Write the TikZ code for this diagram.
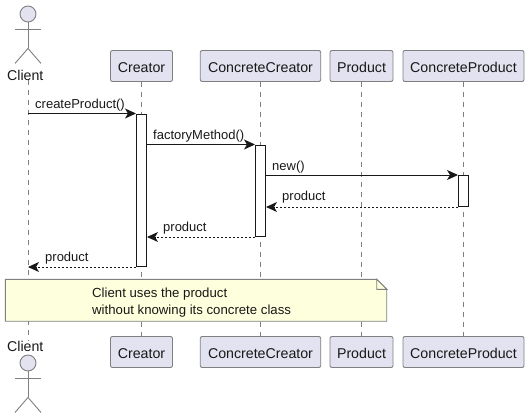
\documentclass[tikz,border=0pt]{standalone}
\usepackage{fontspec}
\setmainfont{Liberation Sans}
\usetikzlibrary{shapes, arrows, arrows.meta}
\definecolor{boxFill}{HTML}{E2E2F0}
\definecolor{noteFill}{HTML}{FEFFDD}
\definecolor{edgeGray}{HTML}{7F7F7F}
\definecolor{inkDark}{HTML}{181818}

\begin{document}
\begin{tikzpicture}[
    x=1pt, y=-1pt,
    partBox/.style={draw=edgeGray, fill=boxFill, rounded corners=2pt, line width=0.9pt, minimum height=31pt, inner sep=0pt, text=inkDark, text height=12pt, text depth=0pt, font=\fontsize{14.2}{16}\selectfont},
    bar/.style={draw=inkDark, fill=white, line width=1pt, minimum width=10pt, inner sep=0pt},
    lifeLine/.style={draw=edgeGray, line width=0.9pt, dash pattern=on 5pt off 5pt},
    actorLine/.style={draw=edgeGray, line width=0.9pt},
    actorName/.style={text=inkDark, inner sep=0pt, font=\fontsize{14.2}{16}\selectfont},
    msgText/.style={anchor=west, inner sep=0pt, text=inkDark, font=\fontsize{13}{15}\selectfont},
    msgCall/.style={draw=inkDark, line width=1pt, -{Stealth[length=11pt, width=10pt, inset=3pt]}},
    msgBack/.style={msgCall, dash pattern=on 2pt off 2pt}
    ]
    \useasboundingbox (0, 0) rectangle (529, 418);

    % header and footer
    \node[actorName] (clientTop) at (25.3, 75) {Client};
    \node[actorName] (clientBot) at (25.3, 346) {Client};
    \node[partBox, minimum width=62pt] (creatorTop) at (141.5, 66) {Creator};
    \node[partBox, minimum width=120.5pt] (concCreatorTop) at (260.5, 66) {ConcreteCreator};
    \node[partBox, minimum width=63pt] (productTop) at (361.5, 66) {Product};
    \node[partBox, minimum width=121pt] (concProductTop) at (463.5, 66) {ConcreteProduct};
    \node[partBox, minimum width=62pt] (creatorBot) at (141.5, 352) {Creator};
    \node[partBox, minimum width=120.5pt] (concCreatorBot) at (260.5, 352) {ConcreteCreator};
    \node[partBox, minimum width=63pt] (productBot) at (361.5, 352) {Product};
    \node[partBox, minimum width=121pt] (concProductBot) at (463.5, 352) {ConcreteProduct};

    % actors
    \foreach \nm/\hy in {Top/14, Bot/363} {
        \node[circle, draw=edgeGray, fill=boxFill, line width=0.9pt, minimum size=16pt, inner sep=0pt] (head\nm) at (28, \hy) {};
        \draw[actorLine] (head\nm.south) -- ++(0, 26) coordinate (hip\nm);
        \draw[actorLine] (head\nm.south) ++(-13, 7) -- ++(26, 0);
        \draw[actorLine] (hip\nm) -- ++(-13, 15);
        \draw[actorLine] (hip\nm) -- ++(13, 15);
    }

    % lifelines
    \draw[lifeLine] (headTop |- clientTop.south) -- (headTop |- clientBot.north);
    \draw[lifeLine] (creatorTop.south) -- (creatorBot.north);
    \draw[lifeLine] (concCreatorTop.south) -- (concCreatorBot.north);
    \draw[lifeLine] (productTop.south) -- (productBot.north);
    \draw[lifeLine] (concProductTop.south) -- (concProductBot.north);

    % activations
    \node[bar, minimum height=152.5pt] (creatorBar) at (141.5, 190.25) {};
    \node[bar, minimum height=91.5pt] (concCreatorBar) at (260.5, 190.75) {};
    \node[bar, minimum height=31pt] (concProductBar) at (463.5, 191) {};

    % messages
    \draw[msgCall] (headTop |- creatorBar.north) -- (creatorBar.north west);
    \draw[msgCall] (creatorBar.east |- concCreatorBar.north) -- (concCreatorBar.north west);
    \draw[msgCall] (concCreatorBar.east |- concProductBar.north) -- (concProductBar.north west);
    \draw[msgBack] (concProductBar.south west) -- (concCreatorBar.east |- concProductBar.south);
    \draw[msgBack] (concCreatorBar.south west) -- (creatorBar.east |- concCreatorBar.south);
    \draw[msgBack] (creatorBar.south west) -- (headTop |- creatorBar.south);

    \node[msgText] (createLabel) at (35, 105.5) {createProduct()};
    \node[msgText] (factoryLabel) at (153, 136) {factoryMethod()};
    \node[msgText] (newLabel) at (272, 167) {new()};
    \node[msgText] (returnLabelA) at (282, 197.5) {product};
    \node[msgText] (returnLabelB) at (163, 228) {product};
    \node[msgText] (returnLabelC) at (45, 258) {product};

    % note
    \node[minimum width=381pt, minimum height=41.5pt, inner sep=0pt] (note) at (196, 300.25) {};
    \draw[draw=edgeGray, fill=noteFill, line width=0.9pt] (note.north west) -- ([xshift=-10pt]note.north east) -- ([yshift=-10pt]note.north east) -- (note.south east) -- (note.south west) -- cycle;
    \draw[draw=edgeGray, fill=noteFill, line width=0.9pt] ([xshift=-10pt]note.north east) -- ([xshift=-10pt, yshift=-10pt]note.north east) -- ([yshift=-10pt]note.north east) -- cycle;
    \node[msgText, align=left, font=\fontsize{13.2}{17}\selectfont] (noteText) at (92, 302.5) {Client uses the product\\without knowing its concrete class};
\end{tikzpicture}
\end{document}
